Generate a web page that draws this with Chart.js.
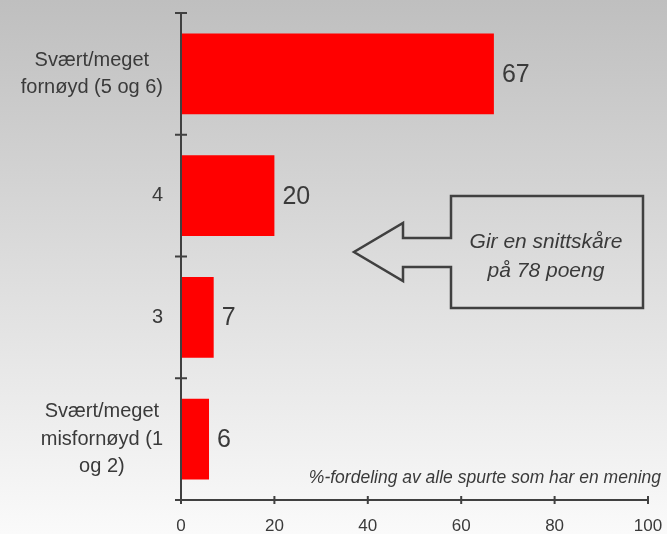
<!DOCTYPE html>
<html>
<head>
<meta charset="utf-8">
<script src="https://cdn.jsdelivr.net/npm/chart.js@4"></script>
<style>
    html, body { margin: 0; padding: 0; }
    #wrap { width: 667px; height: 534px; position: relative; }
</style>
</head>
<body>
<div id="wrap"><canvas id="chart"></canvas></div>
<script>
// ============================================================
// DATA
// ============================================================
const categories = [
    ['Svært/meget', 'fornøyd (5 og 6)'],
    ['4'],
    ['3'],
    ['Svært/meget', 'misfornøyd (1', 'og 2)']
];
const shares = [67, 20, 7, 6];
const xTicks = [0, 20, 40, 60, 80, 100];
const calloutLines = ['Gir en snittskåre', 'på 78 poeng'];
const footnote = '%-fordeling av alle spurte som har en mening';

const textColor = '#3a3a3a';
const lineColor = '#404040';
const fontFamily = '"Liberation Sans", Arial, sans-serif';

// ============================================================
// PLUGINS
// ============================================================
const backdrop = {
    id: 'backdrop',
    beforeDraw(chart) {
        const ctx = chart.ctx;
        const g = ctx.createLinearGradient(0, 0, 0, chart.height);
        g.addColorStop(0, '#bfbfbf');
        g.addColorStop(1, '#fafafa');
        ctx.save();
        ctx.fillStyle = g;
        ctx.fillRect(0, 0, chart.width, chart.height);
        ctx.restore();
    }
};

// tick marks that cross the axis lines, plus category labels
const axisDecor = {
    id: 'axisDecor',
    afterDraw(chart) {
        const ctx = chart.ctx;
        const x = chart.scales.x;
        const y = chart.scales.y;
        const area = chart.chartArea;
        ctx.save();
        ctx.strokeStyle = lineColor;
        ctx.lineWidth = 2;

        // y axis line + boundary ticks
        ctx.beginPath();
        ctx.moveTo(area.left, y.getPixelForValue(-0.5));
        ctx.lineTo(area.left, y.getPixelForValue(categories.length - 0.5));
        for (let i = 0; i <= categories.length; i++) {
            const py = y.getPixelForValue(i - 0.5);
            ctx.moveTo(area.left - 6, py);
            ctx.lineTo(area.left + 6, py);
        }
        // x axis line + ticks
        ctx.moveTo(x.getPixelForValue(xTicks[0]), area.bottom);
        ctx.lineTo(x.getPixelForValue(xTicks[xTicks.length - 1]), area.bottom);
        xTicks.forEach(v => {
            const px = x.getPixelForValue(v);
            ctx.moveTo(px, area.bottom - 4);
            ctx.lineTo(px, area.bottom + 4);
        });
        ctx.stroke();

        // category labels: lines centred, block right edge fixed
        ctx.fillStyle = textColor;
        ctx.font = '20px ' + fontFamily;
        ctx.textAlign = 'center';
        ctx.textBaseline = 'middle';
        const lineH = 27.5;
        categories.forEach((lines, i) => {
            const widest = Math.max(...lines.map(l => ctx.measureText(l).width));
            const cx = area.left - 18 - widest / 2;
            const cy = y.getPixelForValue(i);
            lines.forEach((l, j) => {
                ctx.fillText(l, cx, cy + (j - (lines.length - 1) / 2) * lineH);
            });
        });
        ctx.restore();
    }
};

const valueLabels = {
    id: 'valueLabels',
    afterDatasetsDraw(chart) {
        const ctx = chart.ctx;
        const meta = chart.getDatasetMeta(0);
        ctx.save();
        ctx.fillStyle = textColor;
        ctx.font = '25px ' + fontFamily;
        ctx.textAlign = 'left';
        ctx.textBaseline = 'middle';
        meta.data.forEach((bar, i) => {
            ctx.fillText(String(shares[i]), bar.x + 8, bar.y + 1);
        });
        ctx.restore();
    }
};

// arrow-shaped callout and footnote
const callout = {
    id: 'callout',
    afterDraw(chart) {
        const ctx = chart.ctx;
        ctx.save();
        ctx.strokeStyle = lineColor;
        ctx.lineWidth = 2.5;
        ctx.lineJoin = 'miter';
        ctx.beginPath();
        ctx.moveTo(451, 196);
        ctx.lineTo(643, 196);
        ctx.lineTo(643, 308);
        ctx.lineTo(451, 308);
        ctx.lineTo(451, 267);
        ctx.lineTo(403, 267);
        ctx.lineTo(403, 281);
        ctx.lineTo(354, 252);
        ctx.lineTo(403, 223);
        ctx.lineTo(403, 238);
        ctx.lineTo(451, 238);
        ctx.closePath();
        ctx.stroke();

        ctx.fillStyle = textColor;
        ctx.font = 'italic 21px ' + fontFamily;
        ctx.textAlign = 'center';
        ctx.textBaseline = 'alphabetic';
        calloutLines.forEach((l, j) => ctx.fillText(l, 546, 248 + j * 29));

        ctx.font = 'italic 17.5px ' + fontFamily;
        ctx.textAlign = 'right';
        ctx.fillText(footnote, 661, 483);
        ctx.restore();
    }
};

// ============================================================
// CHART
// ============================================================
new Chart(document.getElementById('chart'), {
    type: 'bar',
    data: {
        labels: categories,
        datasets: [{
            data: shares,
            backgroundColor: '#ff0000',
            borderWidth: 0,
            barPercentage: 0.665,
            categoryPercentage: 1
        }]
    },
    options: {
        indexAxis: 'y',
        responsive: true,
        maintainAspectRatio: false,
        animation: false,
        layout: { padding: { top: 13, right: 19, left: 0, bottom: 0 } },
        plugins: { legend: { display: false }, tooltip: { enabled: false } },
        scales: {
            x: {
                min: 0,
                max: 100,
                afterBuildTicks(scale) { scale.ticks = xTicks.map(v => ({ value: v })); },
                afterFit(scale) {
                    scale.height = 34;
                    scale.paddingLeft = 0;
                    scale.paddingRight = 0;
                },
                grid: { display: false, drawTicks: false },
                border: { display: false },
                ticks: {
                    padding: 16,
                    color: textColor,
                    font: { family: fontFamily, size: 17 }
                }
            },
            y: {
                afterFit(scale) { scale.width = 181; },
                grid: { display: false, drawTicks: false },
                border: { display: false },
                ticks: { display: false }
            }
        }
    },
    plugins: [backdrop, valueLabels, axisDecor, callout]
});
</script>
</body>
</html>
